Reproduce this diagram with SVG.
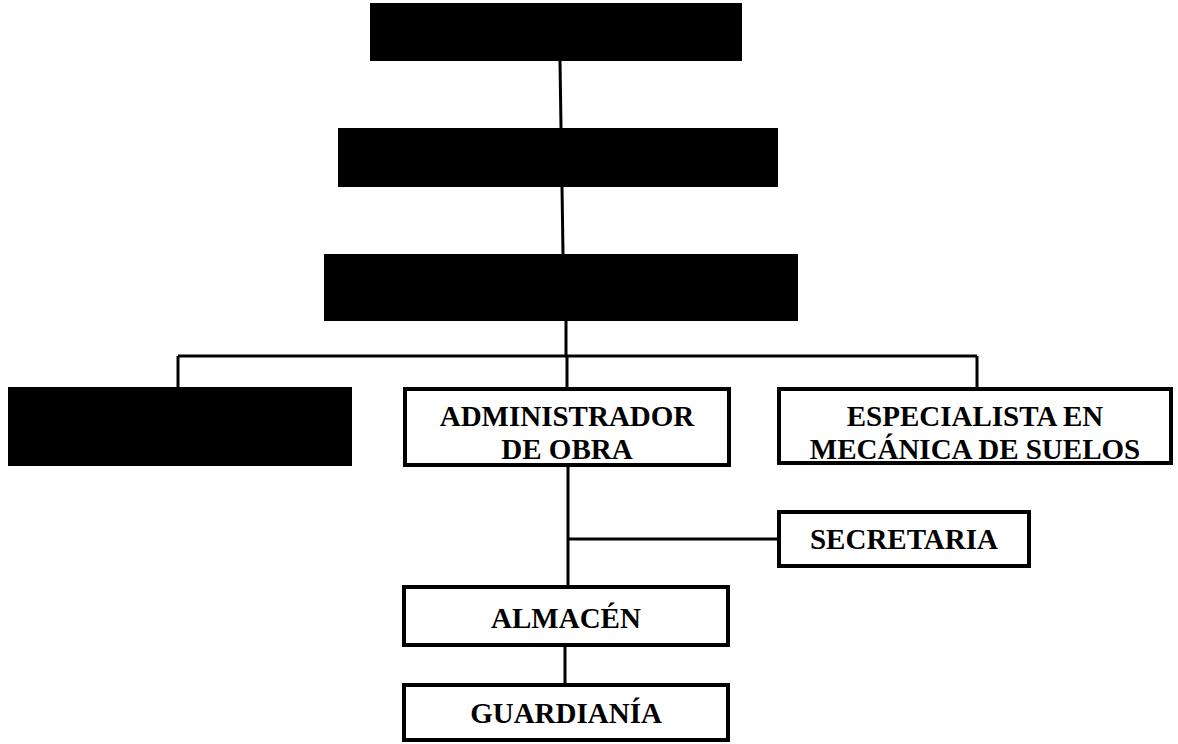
<svg xmlns="http://www.w3.org/2000/svg" width="1178" height="744" viewBox="0 0 1178 744">
<style>
.blk{fill:#000;stroke:none}
.box{fill:#fff;stroke:#000;stroke-width:4}
.ln{stroke:#000;stroke-width:3;fill:none}
.t{font-family:"Liberation Serif","Times New Roman",serif;font-weight:bold;font-size:29px;fill:#000;text-anchor:middle}
</style>
<rect width="1178" height="744" fill="#fff"/>
<g id="connectors">
<line class="ln" x1="560" y1="61" x2="561" y2="128"/>
<line class="ln" x1="562" y1="187" x2="563" y2="254"/>
<line class="ln" x1="566" y1="321" x2="566" y2="356"/>
<line class="ln" x1="178" y1="356" x2="977" y2="356"/>
<line class="ln" x1="178" y1="356" x2="178" y2="387"/>
<line class="ln" x1="567" y1="356" x2="567" y2="388"/>
<line class="ln" x1="977" y1="356" x2="977" y2="388"/>
<line class="ln" x1="568" y1="466" x2="568" y2="587"/>
<line class="ln" x1="568" y1="539" x2="778" y2="539"/>
<line class="ln" x1="565" y1="645" x2="565" y2="685"/>
</g>
<g id="n1"><rect class="blk" x="370" y="3" width="372" height="58"/></g>
<g id="n2"><rect class="blk" x="338" y="128" width="440" height="59"/></g>
<g id="n3"><rect class="blk" x="324" y="254" width="474" height="67"/></g>
<g id="n4"><rect class="blk" x="8" y="387" width="344" height="79"/></g>
<g id="admin"><rect class="box" x="405" y="389" width="324" height="76"/>
<text class="t" x="567" y="426">ADMINISTRADOR</text>
<text class="t" x="567" y="459">DE OBRA</text></g>
<g id="esp"><rect class="box" x="779" y="389" width="392" height="74"/>
<text class="t" x="975" y="426">ESPECIALISTA EN</text>
<text class="t" x="975" y="459">MECÁNICA DE SUELOS</text></g>
<g id="secretaria"><rect class="box" x="779" y="512" width="250" height="54"/>
<text class="t" x="904" y="549">SECRETARIA</text></g>
<g id="almacen"><rect class="box" x="404" y="587" width="324" height="58"/>
<text class="t" x="566" y="628">ALMACÉN</text></g>
<g id="guardiania"><rect class="box" x="404" y="685" width="324" height="55"/>
<text class="t" x="566" y="723">GUARDIANÍA</text></g>
</svg>
